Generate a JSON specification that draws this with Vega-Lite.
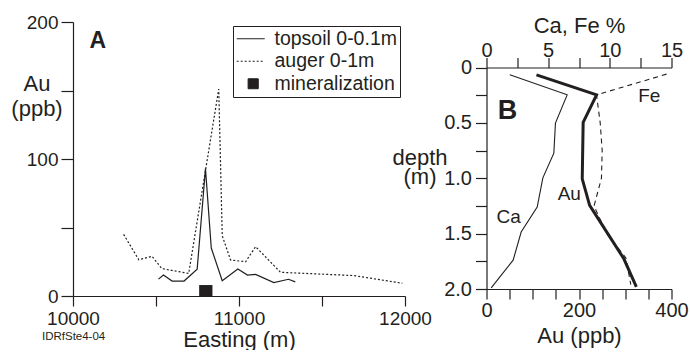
{
  "$schema": "https://vega.github.io/schema/vega-lite/v6.json",
  "background": "white",
  "padding": {"left": 10, "top": 13, "right": 2, "bottom": 0},
  "spacing": -40.5,
  "config": {
    "font": "Liberation Sans",
    "view": {"stroke": null},
    "axis": {"grid": false, "labelFlush": false, "domainColor": "#231f20", "tickColor": "#231f20", "labelColor": "#231f20", "titleColor": "#231f20", "labelFontSize": 19, "titleFontSize": 22, "titleFontWeight": "normal", "domainWidth": 1.2, "tickWidth": 1.2, "labelFont": "Liberation Sans", "titleFont": "Liberation Sans"},
    "text": {"font": "Liberation Sans", "color": "#231f20"}
  },
  "datasets": {
    "traverse": [
      {"series": "topsoil 0-0.1m", "easting": 10515, "au": 12.3},
      {"series": "topsoil 0-0.1m", "easting": 10545, "au": 15.3},
      {"series": "topsoil 0-0.1m", "easting": 10597, "au": 10.9},
      {"series": "topsoil 0-0.1m", "easting": 10669, "au": 10.9},
      {"series": "topsoil 0-0.1m", "easting": 10748, "au": 19.6},
      {"series": "topsoil 0-0.1m", "easting": 10798, "au": 93},
      {"series": "topsoil 0-0.1m", "easting": 10833, "au": 35},
      {"series": "topsoil 0-0.1m", "easting": 10899, "au": 11.2},
      {"series": "topsoil 0-0.1m", "easting": 10993, "au": 19.7},
      {"series": "topsoil 0-0.1m", "easting": 11051, "au": 15.3},
      {"series": "topsoil 0-0.1m", "easting": 11100, "au": 15.8},
      {"series": "topsoil 0-0.1m", "easting": 11210, "au": 9.8},
      {"series": "topsoil 0-0.1m", "easting": 11298, "au": 12.2},
      {"series": "topsoil 0-0.1m", "easting": 11339, "au": 10.3},
      {"series": "auger 0-1m", "easting": 10305, "au": 45},
      {"series": "auger 0-1m", "easting": 10396, "au": 26.5},
      {"series": "auger 0-1m", "easting": 10476, "au": 29},
      {"series": "auger 0-1m", "easting": 10535, "au": 20},
      {"series": "auger 0-1m", "easting": 10697, "au": 16.5},
      {"series": "auger 0-1m", "easting": 10878, "au": 151},
      {"series": "auger 0-1m", "easting": 10899, "au": 44},
      {"series": "auger 0-1m", "easting": 10949, "au": 26.3},
      {"series": "auger 0-1m", "easting": 11040, "au": 25},
      {"series": "auger 0-1m", "easting": 11100, "au": 36},
      {"series": "auger 0-1m", "easting": 11250, "au": 17.3},
      {"series": "auger 0-1m", "easting": 11692, "au": 14.9},
      {"series": "auger 0-1m", "easting": 11984, "au": 9.3}
    ],
    "mineral": [{"series": "mineralization", "easting": 10760, "easting2": 10840, "au": 0, "au2": 8}],
    "panelA": [{"label": "A", "easting": 10150, "au": 186}],
    "codeA": [{"label": "IDRfSte4-04", "easting": 9813, "au": -30}],
    "auProfile": [
      {"depth": 0.066, "au": 108},
      {"depth": 0.247, "au": 238},
      {"depth": 0.495, "au": 209},
      {"depth": 1.005, "au": 207},
      {"depth": 1.245, "au": 223},
      {"depth": 1.727, "au": 297},
      {"depth": 1.98, "au": 324}
    ],
    "auLabel": [{"label": "Au", "depth": 1.14, "au": 179}],
    "pctProfiles": [
      {"element": "Ca", "depth": 0.066, "pct": 1.89},
      {"element": "Ca", "depth": 0.247, "pct": 6.54},
      {"element": "Ca", "depth": 0.502, "pct": 5.59},
      {"element": "Ca", "depth": 0.773, "pct": 5.46},
      {"element": "Ca", "depth": 0.996, "pct": 4.57},
      {"element": "Ca", "depth": 1.26, "pct": 4.11},
      {"element": "Ca", "depth": 1.486, "pct": 2.81},
      {"element": "Ca", "depth": 1.74, "pct": 2.16},
      {"element": "Ca", "depth": 1.99, "pct": 0.38},
      {"element": "Fe", "depth": 0.06, "pct": 14.6},
      {"element": "Fe", "depth": 0.247, "pct": 8.92},
      {"element": "Fe", "depth": 0.5, "pct": 9.22},
      {"element": "Fe", "depth": 0.75, "pct": 9.38},
      {"element": "Fe", "depth": 1.0, "pct": 9.32},
      {"element": "Fe", "depth": 1.25, "pct": 8.72},
      {"element": "Fe", "depth": 1.5, "pct": 9.75},
      {"element": "Fe", "depth": 1.72, "pct": 11.3},
      {"element": "Fe", "depth": 1.96, "pct": 11.7}
    ],
    "pctLabels": [
      {"label": "Fe", "depth": 0.253, "pct": 13.2},
      {"label": "Ca", "depth": 1.35, "pct": 1.8}
    ],
    "panelB": [{"label": "B", "depth": 0.39, "pct": 1.7}]
  },
  "resolve": {"scale": {"color": "independent"}, "legend": {"color": "independent"}},
  "hconcat": [
    {
      "width": 332,
      "height": 274,
      "encoding": {
        "x": {"field": "easting", "type": "quantitative", "scale": {"domain": [10000, 12000], "nice": false, "zero": false},
          "axis": {"values": [10000, 10500, 11000, 11500, 12000], "format": "d", "labelExpr": "datum.value % 1000 === 0 ? datum.label : ''", "tickSize": 10, "labelPadding": 3, "title": "Easting (m)", "titleBaseline": "alphabetic", "titleY": 50,
            "encode": {"ticks": {"update": {"y": {"value": 0}, "y2": {"signal": "datum.value % 1000 === 0 ? 10 : 6"}}}}}},
        "y": {"field": "au", "type": "quantitative", "scale": {"domain": [0, 200], "nice": false},
          "axis": {"values": [0, 50, 100, 150, 200], "labelExpr": "datum.value % 100 === 0 ? datum.label : ''", "tickSize": 12, "labelPadding": 3, "title": ["Au", "(ppb)"], "titleAngle": 0, "titleAlign": "center", "titleBaseline": "alphabetic", "titleX": -36.5, "titleY": 68, "titleLineHeight": 25.5,
            "encode": {"ticks": {"update": {"x": {"value": 0}, "x2": {"signal": "datum.value % 100 === 0 ? -12 : -6"}}}}}}
      },
      "layer": [
        {
          "data": {"name": "traverse"},
          "transform": [{"filter": "datum.series === 'topsoil 0-0.1m'"}],
          "mark": {"type": "line", "strokeWidth": 1.2},
          "encoding": {
            "color": {"field": "series", "type": "nominal",
              "scale": {"domain": ["topsoil 0-0.1m", "auger 0-1m", "mineralization"], "range": ["#231f20", "#231f20", "#231f20"]},
              "legend": {"title": null, "orient": "none", "legendX": 160, "legendY": 4, "strokeColor": "#231f20", "fillColor": "white", "padding": 3,
                "labelFontSize": 19.5, "labelFont": "Liberation Sans", "labelColor": "#231f20", "labelOffset": 19, "rowPadding": 1.5,
                "symbolType": "square", "symbolSize": 100, "symbolStrokeWidth": 1.2,
                "encode": {"symbols": {"update": {
                  "x": {"signal": "datum.value === 'mineralization' ? 17.2 : 14.7"},
                  "shape": {"signal": "datum.value === 'mineralization' ? 'square' : 'M-2.8,0H2.8'"},
                  "strokeDash": {"signal": "datum.value === 'auger 0-1m' ? [2, 2] : [1, 0]"},
                  "fill": {"signal": "datum.value === 'mineralization' ? '#231f20' : 'transparent'"},
                  "stroke": {"value": "#231f20"},
                  "strokeWidth": {"value": 1.2},
                  "opacity": {"value": 1}
                }}}}
            }
          }
        },
        {
          "data": {"name": "traverse"},
          "transform": [{"filter": "datum.series === 'auger 0-1m'"}],
          "mark": {"type": "line", "strokeWidth": 1.2, "strokeDash": [2, 2]},
          "encoding": {"color": {"field": "series", "type": "nominal"}}
        },
        {
          "data": {"name": "mineral"},
          "mark": {"type": "rect"},
          "encoding": {"x2": {"field": "easting2"}, "y2": {"field": "au2"}, "color": {"field": "series", "type": "nominal"}}
        },
        {
          "data": {"name": "panelA"},
          "mark": {"type": "text", "fontSize": 23, "fontWeight": "bold"},
          "encoding": {"text": {"field": "label"}}
        },
        {
          "data": {"name": "codeA"},
          "mark": {"type": "text", "fontSize": 11.5, "align": "left"},
          "encoding": {"text": {"field": "label"}}
        }
      ]
    },
    {
      "width": 185,
      "height": 267,
      "encoding": {
        "y": {"field": "depth", "type": "quantitative", "scale": {"domain": [0, 2], "range": [45.5, 267], "nice": false, "zero": false},
          "axis": {"values": [0, 0.25, 0.5, 0.75, 1, 1.25, 1.5, 1.75, 2], "labelExpr": "datum.value === 0 ? '0' : (abs(datum.value * 2 - round(datum.value * 2)) < 0.001 ? format(datum.value, '.1f') : '')", "labelFontSize": 20, "tickSize": 11, "labelPadding": 4,
            "title": ["depth", "(m)"], "titleAngle": 0, "titleAlign": "center", "titleBaseline": "alphabetic", "titleX": -67, "titleY": 142, "titleLineHeight": 19,
            "encode": {"ticks": {"update": {"x": {"value": 0}, "x2": {"signal": "abs(datum.value * 2 - round(datum.value * 2)) < 0.001 ? -11 : -6"}}}}}}
      },
      "layer": [
        {
          "encoding": {
            "x": {"field": "au", "type": "quantitative", "scale": {"domain": [0, 400], "nice": false},
              "axis": {"orient": "bottom", "values": [0, 50, 100, 150, 200, 250, 300, 350, 400], "labelExpr": "datum.value % 200 === 0 ? datum.label : ''", "labelFontSize": 20, "tickSize": 10, "labelPadding": 1.5, "title": "Au (ppb)", "titlePadding": 5,
                "encode": {"ticks": {"update": {"y": {"value": 0}, "y2": {"signal": "datum.value % 100 === 0 ? 10 : 5"}}}}}}
          },
          "layer": [
            {"data": {"name": "auProfile"}, "mark": {"type": "line", "strokeWidth": 3, "color": "#231f20"}, "encoding": {"order": {"field": "depth", "type": "quantitative"}}},
            {"data": {"name": "auLabel"}, "mark": {"type": "text", "fontSize": 19}, "encoding": {"text": {"field": "label"}}}
          ]
        },
        {
          "encoding": {
            "x": {"field": "pct", "type": "quantitative", "scale": {"domain": [0, 15], "nice": false},
              "axis": {"orient": "top", "offset": -45.5, "values": [0, 2.5, 5, 7.5, 10, 12.5, 15], "labelExpr": "datum.value % 5 === 0 ? datum.label : ''", "labelFontSize": 20, "tickSize": 10, "labelPadding": -2.5, "title": "Ca, Fe %", "titleBaseline": "alphabetic", "titleY": -35,
                "encode": {"ticks": {"update": {"y": {"value": 0}, "y2": {"signal": "datum.value % 5 === 0 ? -10 : -5"}}}}}}
          },
          "layer": [
            {"data": {"name": "pctProfiles"}, "transform": [{"filter": "datum.element === 'Ca'"}], "mark": {"type": "line", "strokeWidth": 1.1, "color": "#231f20"}, "encoding": {"order": {"field": "depth", "type": "quantitative"}}},
            {"data": {"name": "pctProfiles"}, "transform": [{"filter": "datum.element === 'Fe'"}], "mark": {"type": "line", "strokeWidth": 1.1, "strokeDash": [5, 4], "color": "#231f20"}, "encoding": {"order": {"field": "depth", "type": "quantitative"}}},
            {"data": {"name": "pctLabels"}, "mark": {"type": "text", "fontSize": 19}, "encoding": {"text": {"field": "label"}}},
            {"data": {"name": "panelB"}, "mark": {"type": "text", "fontSize": 27, "fontWeight": "bold"}, "encoding": {"text": {"field": "label"}}}
          ]
        }
      ],
      "resolve": {"scale": {"x": "independent"}}
    }
  ]
}
